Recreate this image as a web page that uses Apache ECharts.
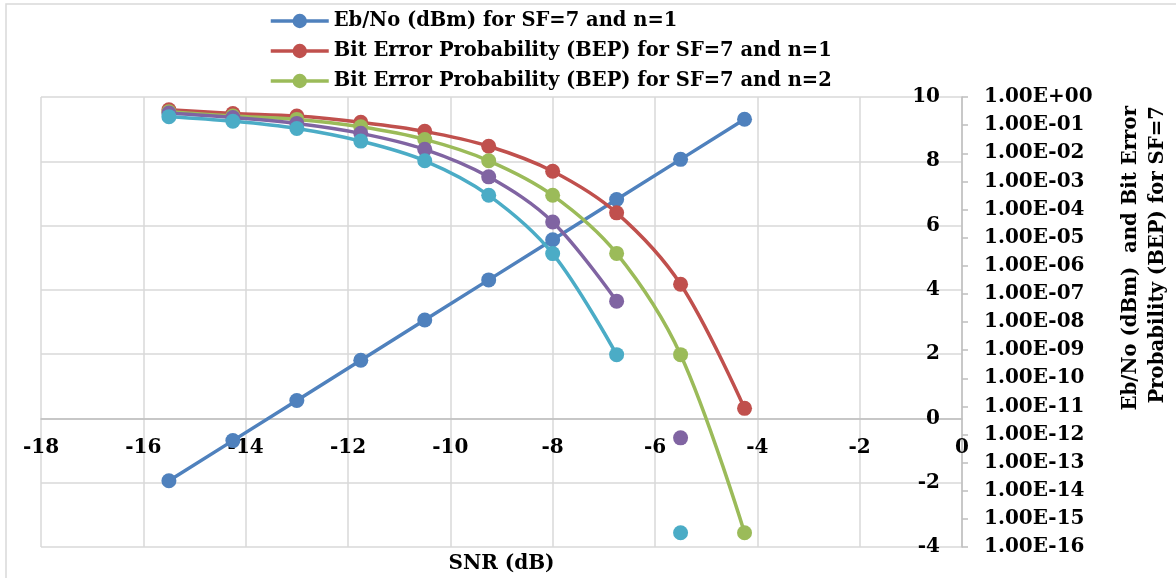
<!DOCTYPE html>
<html>
<head>
<meta charset="utf-8">
<script src="https://cdn.jsdelivr.net/npm/echarts@6/dist/echarts.min.js"></script>
<style>html,body{margin:0;padding:0;background:#fff}#c{width:1176px;height:578px}</style>
</head>
<body>
<div id="c"></div>
<script>
// SNR (dB) categories on the x axis
const snr = [-15.5, -14.25, -13, -11.75, -10.5, -9.25, -8, -6.75, -5.5, -4.25];
// Eb/No (dBm) for SF=7, n=1
const ebno = [-1.94, -0.69, 0.56, 1.81, 3.06, 4.31, 5.56, 6.81, 8.06, 9.31];
// Bit error probability for SF=7
const bepN1 = [3.5e-1, 2.6e-1, 2.1e-1, 1.26e-1, 6.0e-2, 1.78e-2, 2.3e-3, 7.6e-5, 2.2e-7, 8.5e-12];
const bepN2 = [3.0e-1, 2.1e-1, 1.6e-1, 8.7e-2, 3.1e-2, 5.4e-3, 3.2e-4, 2.75e-6, 6.9e-10, 3.2e-16];
const bepN3 = [2.7e-1, 1.86e-1, 1.15e-1, 5.1e-2, 1.38e-2, 1.45e-3, 3.6e-5, 5.5e-8, 7.6e-13, null];
const bepN4 = [2.0e-1, 1.38e-1, 7.6e-2, 2.7e-2, 5.4e-3, 3.2e-4, 2.7e-6, 6.9e-10, 3.2e-16, null];
// index from which n=3 / n=4 points are drawn unconnected
const isolatedIdx = 8;
const names = [
  'Eb/No (dBm) for SF=7 and n=1',
  'Bit Error Probability (BEP) for SF=7 and n=1',
  'Bit Error Probability (BEP) for SF=7 and n=2',
  'Bit Error Probability (BEP) for SF=7 and n=3',
  'Bit Error Probability (BEP) for SF=7 and n=4'
];
const xTicks = {min: -18, max: 0, interval: 2};
const yTicks = {min: -4, max: 10, interval: 2};
const logTicks = {min: 1e-16, max: 1};
const colors = ['#4F81BD', '#C0504D', '#9BBB59', '#8064A2', '#4BACC6'];

const FONT = 'DejaVu Serif';
const GRID = {left: 41, top: 97, right: 214, bottom: 31};
const gridH = 578 - GRID.top - GRID.bottom;
// x axis crosses the primary y axis at 0
const xAxisOffset = -gridH * (0 - yTicks.min) / (yTicks.max - yTicks.min);

const pair = (arr, from, to) => arr.slice(from, to).map((v, i) => [snr[from + i], v]).filter(p => p[1] !== null);
function fmtE(v) {
  const e = Math.round(Math.log10(v));
  const a = Math.abs(e);
  return '1.00E' + (e < 0 ? '-' : '+') + (a < 10 ? '0' + a : '' + a);
}
const lineStyleOf = c => ({color: c, width: 3.5});
function bepLine(name, data, c, z) {
  return {name, type: 'line', yAxisIndex: 1, smooth: 0.35, data, symbol: 'circle', symbolSize: 15,
    itemStyle: {color: c}, lineStyle: lineStyleOf(c), z};
}
const axisFont = {fontFamily: FONT, fontWeight: 'bold', fontSize: 20, color: '#000'};
const chart = echarts.init(document.getElementById('c'), null, {renderer: 'canvas'});
chart.setOption({
  animation: false,
  color: colors,
  textStyle: {fontFamily: FONT},
  grid: Object.assign({containLabel: false, outerBoundsMode: 'none'}, GRID),
  legend: {
    data: names.slice(0, 3), orient: 'vertical', left: 264, top: 6, itemGap: 10,
    itemWidth: 58, itemHeight: 18,
    lineStyle: {width: 3.5},
    textStyle: {fontFamily: FONT, fontWeight: 'bold', fontSize: 19.5, color: '#000'}
  },
  xAxis: {
    type: 'value', position: 'bottom', offset: xAxisOffset,
    min: xTicks.min, max: xTicks.max, interval: xTicks.interval,
    axisLine: {onZero: false, lineStyle: {color: '#bfbfbf', width: 1.5}},
    axisTick: {show: false},
    axisLabel: Object.assign({margin: 19}, axisFont),
    splitLine: {show: true, lineStyle: {color: '#d9d9d9', width: 1.5}},
    name: 'SNR (dB)', nameLocation: 'middle', nameGap: 135,
    nameTextStyle: {fontFamily: FONT, fontWeight: 'bold', fontSize: 20, color: '#000'}
  },
  yAxis: [{
    type: 'value', position: 'right', min: yTicks.min, max: yTicks.max, interval: yTicks.interval,
    axisLine: {show: false, onZero: false},
    axisTick: {show: false},
    axisLabel: Object.assign({inside: true, margin: 22}, axisFont),
    splitLine: {show: true, lineStyle: {color: '#d9d9d9', width: 1.5}}
  }, {
    type: 'log', logBase: 10, position: 'right', min: logTicks.min, max: logTicks.max, interval: 1,
    axisLine: {show: true, onZero: false, lineStyle: {color: '#bfbfbf', width: 1.5}},
    axisTick: {show: true, length: 6, lineStyle: {color: '#bfbfbf', width: 1.5}},
    axisLabel: Object.assign({margin: 22, formatter: fmtE}, axisFont),
    splitLine: {show: false}
  }],
  graphic: [{
    type: 'rect', shape: {x: 6, y: 4, width: 1200, height: 600}, silent: true,
    style: {fill: 'none', stroke: '#d9d9d9', lineWidth: 1.5}, z: -10
  }, {
    type: 'text', x: 1144, y: 106, rotation: Math.PI / 2,
    style: {text: 'Eb/No (dBm)  and Bit Error\nProbability (BEP) for SF=7', align: 'right', verticalAlign: 'middle',
      font: 'bold 19.7px "DejaVu Serif"', fill: '#000', lineHeight: 27}
  }],
  series: [
    {name: names[0], type: 'line', yAxisIndex: 0, data: pair(ebno, 0, snr.length), symbol: 'circle', symbolSize: 15,
      itemStyle: {color: colors[0]}, lineStyle: lineStyleOf(colors[0]), z: 2},
    bepLine(names[1], pair(bepN1, 0, snr.length), colors[1], 3),
    bepLine(names[2], pair(bepN2, 0, snr.length), colors[2], 4),
    bepLine(names[3], pair(bepN3, 0, isolatedIdx), colors[3], 5),
    bepLine(names[4], pair(bepN4, 0, isolatedIdx), colors[4], 6),
    {name: names[3], type: 'scatter', yAxisIndex: 1, data: pair(bepN3, isolatedIdx, snr.length), symbol: 'circle', symbolSize: 15,
      itemStyle: {color: colors[3], opacity: 1}, z: 5},
    {name: names[4], type: 'scatter', yAxisIndex: 1, data: pair(bepN4, isolatedIdx, snr.length), symbol: 'circle', symbolSize: 15,
      itemStyle: {color: colors[4], opacity: 1}, z: 6}
  ]
});
</script>
</body>
</html>
